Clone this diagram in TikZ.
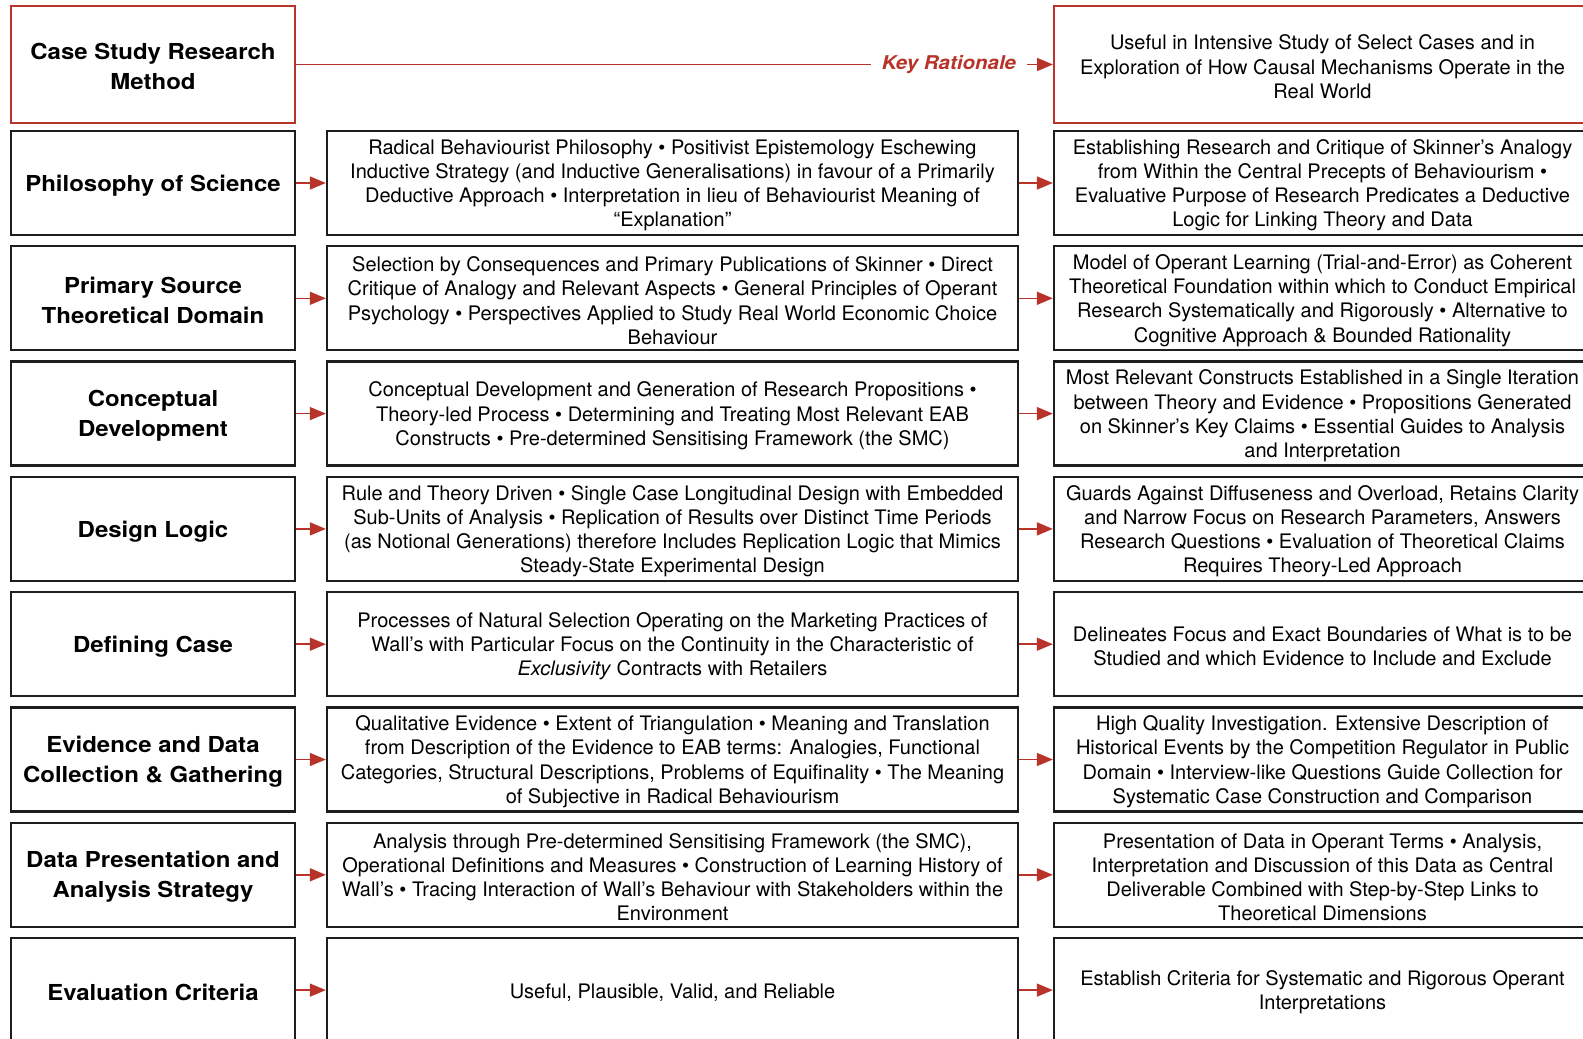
\documentclass[tikz,border=0pt]{standalone}
\usepackage{fontspec}
\setmainfont{TeX Gyre Heros}
\newfontfamily\titlefont{TeX Gyre Heros}[FakeStretch=1.09]
\newfontfamily\keyfont{TeX Gyre Heros}[FakeStretch=1.08]
\usetikzlibrary{arrows.meta}
\definecolor{accent}{RGB}{184,52,42}
\definecolor{frame}{RGB}{30,30,30}
% struts that settle the first line of a box a little lower
\newcommand\bodylift{\rule{0pt}{19.5pt}}
\newcommand\titlelift{\rule{0pt}{21pt}}
\begin{document}
\begin{tikzpicture}[x=1pt,y=-1pt,
  box/.style={draw=frame, line width=2.3pt, inner sep=0pt, align=center, text=black},
  leftbox/.style={box, minimum width=284pt, minimum height=104pt,
    font=\fontsize{22}{30}\titlefont\bfseries},
  midbox/.style={box, minimum width=691pt, minimum height=104pt,
    font=\fontsize{20}{24.2}\selectfont},
  rightbox/.style={box, minimum width=537pt, minimum height=104pt,
    font=\fontsize{20}{24.2}\selectfont},
  redbox/.style={draw=accent, line width=2pt, minimum height=116.5pt},
  link/.style={draw=accent, line width=1.6pt, -{Triangle[length=16pt,width=13pt]}},
]
\useasboundingbox (0,0) rectangle (1583,1039);
\clip (0,0) rectangle (1583,1039);

% header row
\node[leftbox, redbox] (head) at (153,64.5) {\titlelift Case Study Research\\Method};
\node[rightbox, redbox] (why) at (1322.5,64.5)
  {\bodylift Useful in Intensive Study of Select Cases and in\\
   Exploration of How Causal Mechanisms Operate in the\\
   Real World};
\node[font=\fontsize{19}{24}\keyfont\bfseries\itshape, text=accent,
  inner xsep=11pt, inner ysep=2pt] (kr) at (949,64.5) {Key Rationale};
\draw[accent, line width=1.6pt] (head.east) -- (kr.west);
\draw[link] (kr.east) -- (why.west);

% row 1
\node[leftbox] (l1) at (153,183) {\titlelift Philosophy of Science};
\node[midbox] (m1) at (672.5,183)
  {\bodylift Radical Behaviourist Philosophy • Positivist Epistemology Eschewing\\
   Inductive Strategy (and Inductive Generalisations) in favour of a Primarily\\
   Deductive Approach • Interpretation in lieu of Behaviourist Meaning of\\
   “Explanation”};
\node[rightbox] (r1) at (1322.5,183)
  {\bodylift Establishing Research and Critique of Skinner’s Analogy\\
   from Within the Central Precepts of Behaviourism •\\
   Evaluative Purpose of Research Predicates a Deductive\\
   Logic for Linking Theory and Data};

% row 2
\node[leftbox] (l2) at (153,298.3) {\titlelift Primary Source\\Theoretical Domain};
\node[midbox] (m2) at (672.5,298.3)
  {\bodylift Selection by Consequences and Primary Publications of Skinner • Direct\\
   Critique of Analogy and Relevant Aspects • General Principles of Operant\\
   Psychology • Perspectives Applied to Study Real World Economic Choice\\
   Behaviour};
\node[rightbox] (r2) at (1322.5,298.3)
  {\bodylift Model of Operant Learning (Trial-and-Error) as Coherent\\
   Theoretical Foundation within which to Conduct Empirical\\
   Research Systematically and Rigorously • Alternative to\\
   Cognitive Approach \& Bounded Rationality};

% row 3
\node[leftbox] (l3) at (153,413.6) {\titlelift Conceptual\\Development};
\node[midbox] (m3) at (672.5,413.6)
  {\bodylift Conceptual Development and Generation of Research Propositions •\\
   Theory-led Process • Determining and Treating Most Relevant EAB\\
   Constructs • Pre-determined Sensitising Framework (the SMC)};
\node[rightbox] (r3) at (1322.5,413.6)
  {\bodylift Most Relevant Constructs Established in a Single Iteration\\
   between Theory and Evidence • Propositions Generated\\
   on Skinner’s Key Claims • Essential Guides to Analysis\\
   and Interpretation};

% row 4
\node[leftbox] (l4) at (153,528.9) {\titlelift Design Logic};
\node[midbox] (m4) at (672.5,528.9)
  {\bodylift Rule and Theory Driven • Single Case Longitudinal Design with Embedded\\
   Sub-Units of Analysis • Replication of Results over Distinct Time Periods\\
   (as Notional Generations) therefore Includes Replication Logic that Mimics\\
   Steady-State Experimental Design};
\node[rightbox] (r4) at (1322.5,528.9)
  {\bodylift Guards Against Diffuseness and Overload, Retains Clarity\\
   and Narrow Focus on Research Parameters, Answers\\
   Research Questions • Evaluation of Theoretical Claims\\
   Requires Theory-Led Approach};

% row 5
\node[leftbox] (l5) at (153,644.2) {\titlelift Defining Case};
\node[midbox] (m5) at (672.5,644.2)
  {\bodylift Processes of Natural Selection Operating on the Marketing Practices of\\
   Wall’s with Particular Focus on the Continuity in the Characteristic of\\
   \textit{Exclusivity} Contracts with Retailers};
\node[rightbox] (r5) at (1322.5,644.2)
  {\bodylift Delineates Focus and Exact Boundaries of What is to be\\
   Studied and which Evidence to Include and Exclude};

% row 6
\node[leftbox] (l6) at (153,759.5) {\titlelift Evidence and Data\\Collection \& Gathering};
\node[midbox] (m6) at (672.5,759.5)
  {\bodylift Qualitative Evidence • Extent of Triangulation • Meaning and Translation\\
   from Description of the Evidence to EAB terms: Analogies, Functional\\
   Categories, Structural Descriptions, Problems of Equifinality • The Meaning\\
   of Subjective in Radical Behaviourism};
\node[rightbox] (r6) at (1322.5,759.5)
  {\bodylift High Quality Investigation. Extensive Description of\\
   Historical Events by the Competition Regulator in Public\\
   Domain • Interview-like Questions Guide Collection for\\
   Systematic Case Construction and Comparison};

% row 7
\node[leftbox] (l7) at (153,874.8) {\titlelift Data Presentation and\\Analysis Strategy};
\node[midbox] (m7) at (672.5,874.8)
  {\bodylift Analysis through Pre-determined Sensitising Framework (the SMC),\\
   Operational Definitions and Measures • Construction of Learning History of\\
   Wall’s • Tracing Interaction of Wall’s Behaviour with Stakeholders within the\\
   Environment};
\node[rightbox] (r7) at (1322.5,874.8)
  {\bodylift Presentation of Data in Operant Terms • Analysis,\\
   Interpretation and Discussion of this Data as Central\\
   Deliverable Combined with Step-by-Step Links to\\
   Theoretical Dimensions};

% row 8
\node[leftbox] (l8) at (153,990.1) {\titlelift Evaluation Criteria};
\node[midbox] (m8) at (672.5,990.1) {\bodylift Useful, Plausible, Valid, and Reliable};
\node[rightbox] (r8) at (1322.5,990.1)
  {\bodylift Establish Criteria for Systematic and Rigorous Operant\\
   Interpretations};

% connectors
\foreach \i in {1,...,8} {
  \draw[link] (l\i.east) -- (m\i.west);
  \draw[link] (m\i.east) -- (r\i.west);
}
\end{tikzpicture}
\end{document}
